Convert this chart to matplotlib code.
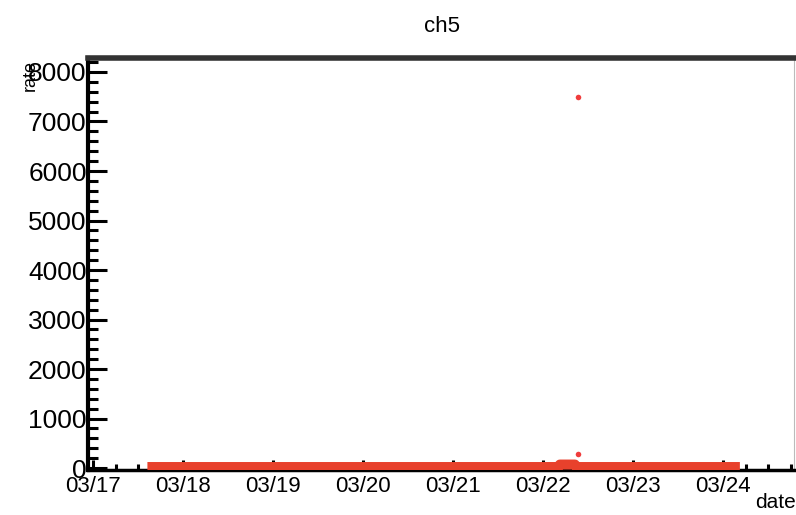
import datetime as dt

import matplotlib
matplotlib.use('Agg')
import matplotlib.pyplot as plt
import matplotlib.dates as mdates
from matplotlib.ticker import MultipleLocator

plt.rcParams['font.family'] = ['Liberation Sans', 'DejaVu Sans']

t0 = dt.datetime(2016, 3, 17)

# hours after 03/17 00:00 and rate values
base_hours = [14.5, 24, 48, 72, 96, 120, 124.0, 124.5, 128.5, 129.0, 144, 168, 172.5]
base_rate = [20, 20, 20, 20, 20, 20, 20, 70, 70, 20, 20, 20, 20]

spike_hours = [129.4, 129.2]
spike_rate = [7490, 280]

title = 'ch5'
xlabel = 'date'
ylabel = 'rate'

base_t = [t0 + dt.timedelta(hours=h) for h in base_hours]
spike_t = [t0 + dt.timedelta(hours=h) for h in spike_hours]

fig = plt.figure(figsize=(7.96, 5.15), dpi=100)
ax = fig.add_axes([0.1106, 0.0874, 0.8869, 0.8000])

ax.plot(base_t, base_rate, color='#e8412c', lw=7.2, solid_capstyle='butt', zorder=3)
ax.plot(spike_t, spike_rate, 'o', color='#f03c3c', ms=4, mew=0, zorder=4)

ax.set_xlim(t0 - dt.timedelta(days=0.0556), t0 + dt.timedelta(days=7.789))
ax.set_ylim(-40, 8283)

ax.xaxis.set_major_locator(mdates.DayLocator())
ax.xaxis.set_minor_locator(mdates.HourLocator(byhour=[6, 12, 18]))
ax.xaxis.set_major_formatter(mdates.DateFormatter('%m/%d'))
ax.yaxis.set_major_locator(MultipleLocator(1000))
ax.yaxis.set_minor_locator(MultipleLocator(200))

ax.tick_params(axis='y', which='major', direction='in', length=14, width=2.2,
               labelsize=19, pad=1)
ax.tick_params(axis='y', which='minor', direction='in', length=7, width=2.2)
ax.tick_params(axis='x', which='major', direction='in', length=7, width=2.2,
               labelsize=16, pad=4)
ax.tick_params(axis='x', which='minor', direction='in', length=4, width=2.2)

ax.spines['left'].set_linewidth(3)
ax.spines['bottom'].set_linewidth(2.5)
ax.spines['top'].set_linewidth(4)
ax.spines['top'].set_color('#333333')
ax.spines['right'].set_linewidth(0.8)
ax.spines['right'].set_color('#bbbbbb')

fig.text(442 / 796, 1 - 27 / 515, title, ha='center', va='center', fontsize=16)
fig.text(1.0, 1 - 503 / 515, xlabel, ha='right', va='center', fontsize=15)
fig.text(30 / 796, 1 - 60 / 515, ylabel, ha='center', va='top', rotation=90, fontsize=13)

fig.savefig('out.png', dpi=100)
